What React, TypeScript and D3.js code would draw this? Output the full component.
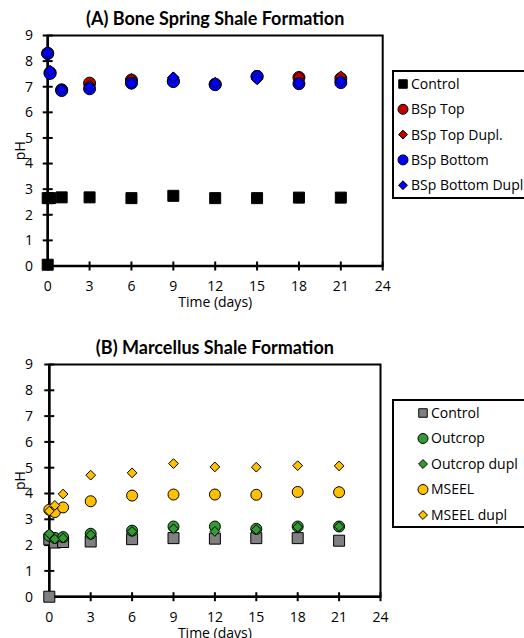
import React from "react";
import * as d3 from "d3";

const xTicks = [0, 3, 6, 9, 12, 15, 18, 21, 24];
const yTicks = [0, 1, 2, 3, 4, 5, 6, 7, 8, 9];

// Panel A: Bone Spring
const aTime = [0, 0.17, 1, 3, 6, 9, 12, 15, 18, 21];
const aControlTime = [0, 0, 0.17, 1, 3, 6, 9, 12, 15, 18, 21];
const aControl = [0.05, 2.65, 2.65, 2.68, 2.68, 2.65, 2.74, 2.65, 2.65, 2.67, 2.67];
const aTop = [8.3, 7.55, 6.88, 7.14, 7.26, 7.22, 7.1, 7.4, 7.36, 7.32];
const aTopDupl = [8.3, 7.6, 6.88, 7.06, 7.3, 7.36, 7.14, 7.3, 7.38, 7.4];
const aBottom = [8.3, 7.52, 6.85, 6.92, 7.14, 7.2, 7.08, 7.4, 7.12, 7.16];
const aBottomDupl = [8.35, 7.62, 6.88, 6.98, 7.12, 7.36, 7.15, 7.3, 7.15, 7.22];

// Panel B: Marcellus
const bTime = [0, 0.4, 1, 3, 6, 9, 12, 15, 18, 21];
const bControlTime = [0, 0, 0.4, 1, 3, 6, 9, 12, 15, 18, 21];
const bControl = [0, 2.22, 2.1, 2.12, 2.14, 2.23, 2.27, 2.25, 2.27, 2.27, 2.17];
const bOutcrop = [2.36, 2.28, 2.31, 2.44, 2.56, 2.72, 2.72, 2.63, 2.72, 2.72];
const bOutcropDupl = [2.44, 2.23, 2.27, 2.4, 2.53, 2.63, 2.53, 2.6, 2.7, 2.72];
const bMseel = [3.37, 3.28, 3.46, 3.7, 3.92, 3.96, 3.96, 3.95, 4.06, 4.05];
const bMseelDupl = [3.32, 3.54, 3.98, 4.71, 4.8, 5.16, 5.03, 5.02, 5.08, 5.07];

type Shape = "square" | "circle" | "diamond";
interface Series {
  name: string;
  time: number[];
  values: number[];
  shape: Shape;
  fill: string;
}

const seriesA: Series[] = [
  { name: "Control", time: aControlTime, values: aControl, shape: "square", fill: "#000000" },
  { name: "BSp Top", time: aTime, values: aTop, shape: "circle", fill: "#C00000" },
  { name: "BSp Top Dupl.", time: aTime, values: aTopDupl, shape: "diamond", fill: "#C00000" },
  { name: "BSp Bottom", time: aTime, values: aBottom, shape: "circle", fill: "#0000FF" },
  { name: "BSp Bottom Dupl.", time: aTime, values: aBottomDupl, shape: "diamond", fill: "#0000FF" },
];

const seriesB: Series[] = [
  { name: "Control", time: bControlTime, values: bControl, shape: "square", fill: "#808080" },
  { name: "Outcrop", time: bTime, values: bOutcrop, shape: "circle", fill: "#339933" },
  { name: "Outcrop  dupl", time: bTime, values: bOutcropDupl, shape: "diamond", fill: "#339933" },
  { name: "MSEEL", time: bTime, values: bMseel, shape: "circle", fill: "#FFC000" },
  { name: "MSEEL dupl", time: bTime, values: bMseelDupl, shape: "diamond", fill: "#FFC000" },
];

const FONT = "'Open Sans', 'Noto Sans', sans-serif";
const TITLE_FONT = "Lato, 'Open Sans', sans-serif";

function Marker({ shape, x, y, size, fill }: { shape: Shape; x: number; y: number; size: number; fill: string }) {
  const type = shape === "square" ? d3.symbolSquare : shape === "circle" ? d3.symbolCircle : d3.symbolDiamond2;
  const area = shape === "square" ? size * size : shape === "circle" ? Math.PI * (size / 2) ** 2 : (size * size) / 2;
  const path = d3.symbol(type, area)() || "";
  return <path d={path} transform={`translate(${x},${y})`} fill={fill} stroke="#000" strokeWidth={1} />;
}

interface PanelProps {
  title: string;
  series: Series[];
  left: number;
  right: number;
  top: number;
  bottom: number;
  titleY: number;
  legend: { x: number; y: number; w: number; h: number; markerX: number; textX: number; firstY: number; step: number };
  markerSize: number;
  diamondSize: number;
  squareSize: number;
}

function Panel(p: PanelProps) {
  const x = d3.scaleLinear().domain([0, 24]).range([p.left, p.right]);
  const y = d3.scaleLinear().domain([0, 9]).range([p.bottom, p.top]);
  const cx = (p.left + p.right) / 2;
  return (
    <g fontFamily={FONT}>
      <text x={cx} y={p.titleY} textAnchor="middle" fontSize={18} fontWeight="bold" fill="#000" fontFamily={TITLE_FONT}>
        {p.title}
      </text>
      {/* plot frame */}
      <rect x={p.left} y={p.top} width={p.right - p.left} height={p.bottom - p.top} fill="none" stroke="#000" strokeWidth={2} />
      {/* axes */}
      <line x1={x(0)} x2={x(0)} y1={p.top} y2={p.bottom} stroke="#000" strokeWidth={2.5} />
      <line x1={p.left} x2={p.right} y1={y(0)} y2={y(0)} stroke="#000" strokeWidth={2.5} />
      {yTicks.map((t) => (
        <g key={"y" + t}>
          <line x1={x(0) - 5} x2={x(0) + 5} y1={y(t)} y2={y(t)} stroke="#000" strokeWidth={2} />
          <text x={33} y={y(t)} dy="0.35em" textAnchor="end" fontSize={14} fill="#000">
            {t}
          </text>
        </g>
      ))}
      {xTicks.map((t) => (
        <g key={"x" + t}>
          <line x1={x(t)} x2={x(t)} y1={y(0) - 4.5} y2={y(0) + 4.5} stroke="#000" strokeWidth={2} />
          <text x={x(t)} y={y(0) + 20} dy="0.35em" textAnchor="middle" fontSize={14} fill="#000">
            {t}
          </text>
        </g>
      ))}
      <text x={cx} y={y(0) + 36.5} dy="0.35em" textAnchor="middle" fontSize={14} fill="#000">
        Time (days)
      </text>
      <text transform={`translate(${20},${y(4.5)}) rotate(-90)`} textAnchor="middle" dy="0.35em" fontSize={14} fill="#000">
        pH
      </text>
      {/* points */}
      {p.series.map((s, si) => (
        <g key={"s" + si}>
          {s.values.map((v, i) => (
            <Marker
              key={i}
              shape={s.shape}
              x={x(s.time[i])}
              y={y(v)}
              size={s.shape === "square" ? p.squareSize : s.shape === "diamond" ? p.diamondSize : p.markerSize}
              fill={s.fill}
            />
          ))}
        </g>
      ))}
      {/* legend */}
      <rect x={p.legend.x} y={p.legend.y} width={p.legend.w} height={p.legend.h} fill="#fff" stroke="#000" strokeWidth={2} />
      {p.series.map((s, i) => {
        const ly = p.legend.firstY + i * p.legend.step;
        return (
          <g key={"l" + i}>
            <Marker shape={s.shape} x={p.legend.markerX} y={ly} size={s.shape === "circle" ? 10 : s.shape === "diamond" ? 10 : 8.5} fill={s.fill} />
            <text x={p.legend.textX} y={ly} dy="0.35em" fontSize={14} fill="#000">
              {s.name}
            </text>
          </g>
        );
      })}
    </g>
  );
}

export default function App() {
  return (
    <svg width={524} height={638} style={{ position: "absolute", left: 0, top: 0, background: "#fff" }}>
      <rect x={0} y={0} width={524} height={638} fill="#fff" />
      <Panel
        title="(A) Bone Spring Shale Formation"
        series={seriesA}
        left={47.7}
        right={382.7}
        top={35.5}
        bottom={266}
        titleY={25}
        legend={{ x: 393, y: 71, w: 140, h: 127, markerX: 403, textX: 411, firstY: 84, step: 25.3 }}
        markerSize={12}
        diamondSize={12.5}
        squareSize={11}
      />
      <Panel
        title="(B) Marcellus Shale Formation"
        series={seriesB}
        left={49.3}
        right={380.5}
        top={364.5}
        bottom={596.7}
        titleY={354}
        legend={{ x: 393, y: 400, w: 140, h: 127, markerX: 423, textX: 431, firstY: 413, step: 25.5 }}
        markerSize={11}
        diamondSize={11}
        squareSize={11}
      />
    </svg>
  );
}
